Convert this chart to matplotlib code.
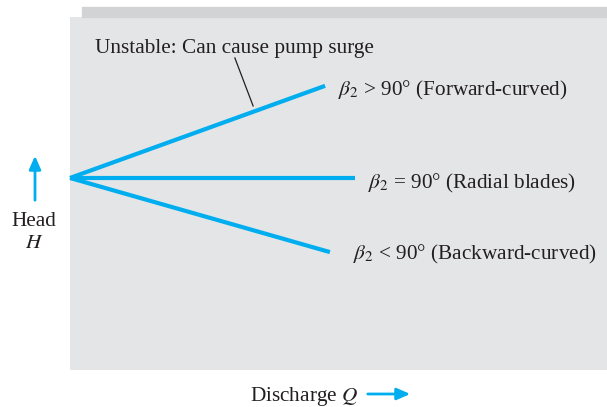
import matplotlib
matplotlib.use("Agg")
import matplotlib.pyplot as plt
from matplotlib.patches import Rectangle, FancyArrowPatch

plt.rcParams['font.family'] = ['Liberation Serif', 'DejaVu Serif']
plt.rcParams['mathtext.fontset'] = 'stix'

# Head vs. discharge for the three blade exit angles (normalised units)
origin = (0.0, 0.544)
blade_labels = [r'$\beta_2$ > 90° (Forward-curved)',
                r'$\beta_2$ = 90° (Radial blades)',
                r'$\beta_2$ < 90° (Backward-curved)']
end_q = [0.475, 0.531, 0.484]
end_h = [0.805, 0.544, 0.334]
label_q = [0.499, 0.555, 0.527]
label_h = [0.793, 0.527, 0.327]

note_text = 'Unstable: Can cause pump surge'
note_text_xy = (0.046, 0.912)
note_line_q = [0.307, 0.341]
note_line_h = [0.884, 0.748]

W, H = 607, 407
FS = 15.3
INK = '#231f20'
fig = plt.figure(figsize=(W / 100, H / 100), dpi=100)

# offset strip behind the panel
fig.patches.append(Rectangle((82 / W, 1 - 17 / H), (W - 82) / W, 10 / H,
                             transform=fig.transFigure, color='#d2d3d5', zorder=0))

ax = fig.add_axes([70 / W, 37 / H, 537 / W, 353 / H])
ax.set_facecolor('#e4e5e7')
ax.set_xlim(0, 1)
ax.set_ylim(0, 1)
for s in ax.spines.values():
    s.set_visible(False)
ax.set_xticks([])
ax.set_yticks([])

blue = '#00aeef'
for q, h, lab, lq, lh in zip(end_q, end_h, blade_labels, label_q, label_h):
    ax.plot([origin[0], q], [origin[1], h], color=blue, lw=3, solid_capstyle='butt',
            clip_on=False)
    ax.text(lq, lh, lab, fontsize=FS, color=INK, va='center', ha='left')

ax.text(*note_text_xy, note_text, fontsize=FS, color=INK, va='center', ha='left')
ax.plot(note_line_q, note_line_h, color=INK, lw=0.9)

# axis captions with arrows
fig.text(34 / W, 1 - 221 / H, 'Head', fontsize=FS, color=INK, ha='center', va='center')
fig.text(34 / W, 1 - 244 / H, '$H$', fontsize=FS, color=INK, ha='center', va='center')
fig.patches.append(FancyArrowPatch(
    (35 / W, 1 - 203 / H), (35 / W, 1 - 153 / H), transform=fig.transFigure,
    arrowstyle='-|>,head_length=8,head_width=3.5', color=blue, lw=2, mutation_scale=1))

fig.text(250 / W, 1 - 396 / H, 'Discharge $Q$', fontsize=FS, color=INK,
         ha='left', va='center')
fig.patches.append(FancyArrowPatch(
    (365 / W, 1 - 394 / H), (413 / W, 1 - 394 / H), transform=fig.transFigure,
    arrowstyle='-|>,head_length=8,head_width=3.5', color=blue, lw=2, mutation_scale=1))

fig.savefig('out.png', dpi=100, facecolor='white')
